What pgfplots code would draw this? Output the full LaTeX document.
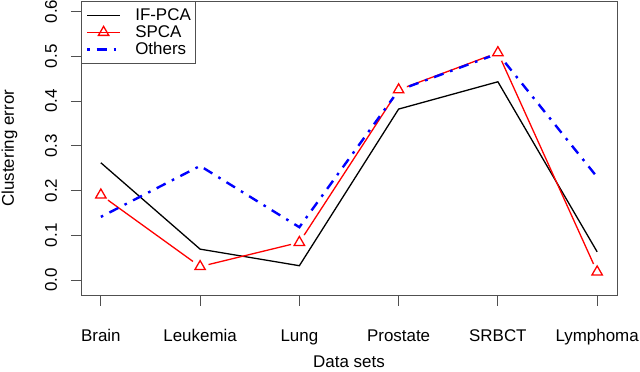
\documentclass[border=0pt]{standalone}
\usepackage{fontspec}
\setmainfont{Liberation Sans}
\usepackage{pgfplots}
\pgfplotsset{compat=1.18}
\definecolor{rred}{RGB}{255,0,0}
\definecolor{rblue}{RGB}{0,0,255}
\definecolor{frame}{RGB}{80,80,80}
\begin{document}
\begin{tikzpicture}[font=\fontsize{17}{20}\selectfont]
\useasboundingbox (-81bp,-76.5bp) rectangle (559bp,295.5bp);
\begin{axis}[
  at={(0,0)}, anchor=south west,
  scale only axis, width=536bp, height=294.5bp,
  xmin=-0.2, xmax=5.2, ymin=-0.0346, ymax=0.6235,
  axis line style={frame, line width=0.8bp},
  xtick={0,1,2,3,4,5},
  xticklabels={Brain,Leukemia,Lung,Prostate,SRBCT,Lymphoma},
  ytick={0,0.1,0.2,0.3,0.4,0.5,0.6},
  yticklabels={0.0,0.1,0.2,0.3,0.4,0.5,0.6},
  tick align=outside, major tick length=10bp,
  tick style={frame, line width=0.8bp},
  xtick pos=bottom, ytick pos=left,
  xticklabel style={anchor=base, yshift=-36bp},
  yticklabel style={xshift=-14bp, rotate=90, anchor=base},
  xlabel={Data sets},
  every axis x label/.style={at={(axis description cs:0.5,0)}, anchor=base, yshift=-72bp},
  ylabel={Clustering error},
  every axis y label/.style={at={(axis description cs:0,0.5)}, xshift=-67bp, rotate=90, anchor=base},
  legend style={at={(0,1)}, anchor=north west, draw=frame, line width=0.8bp,
    fill=white, inner xsep=4.5bp, inner ysep=5.5bp, row sep=0pt, column sep=14bp,
    nodes={inner sep=0pt, text height=13.5bp, text depth=3.5bp}},
  legend cell align=left,
  legend image code/.code={
    \draw[mark repeat=2,mark phase=2,#1] plot coordinates {(0bp,0bp) (16.5bp,0bp) (33bp,0bp)};},
]
% IF-PCA
\addplot[black, line width=1.3bp] coordinates {
  (0,0.262) (1,0.069) (2,0.032) (3,0.382) (4,0.443) (5,0.063)
}; \addlegendentry{IF-PCA}
% SPCA (line with gaps at the points)
\addplot[rred, line width=1.3bp, mark=triangle, mark size=6bp,
         mark options={solid, line width=1.3bp}] coordinates {
  (0,0.190) (1,0.030) (2,0.084) (3,0.425) (4,0.508) (5,0.018)
}; \addlegendentry{SPCA}
\addplot[forget plot, only marks, white, mark=*, mark size=8.5bp] coordinates {
  (0,0.190) (1,0.030) (2,0.084) (3,0.425) (4,0.508) (5,0.018)
};
\addplot[forget plot, only marks, rred, mark=triangle, mark size=6bp,
         mark options={line width=1.3bp}] coordinates {
  (0,0.190) (1,0.030) (2,0.084) (3,0.425) (4,0.508) (5,0.018)
};
% Others
\addplot[rblue, line width=2.4bp, dash pattern=on 2.6bp off 7bp on 10bp off 7bp] coordinates {
  (0,0.141) (1,0.255) (2,0.118) (3,0.424) (4,0.506) (5,0.230)
}; \addlegendentry{Others}
\end{axis}
\end{tikzpicture}
\end{document}
